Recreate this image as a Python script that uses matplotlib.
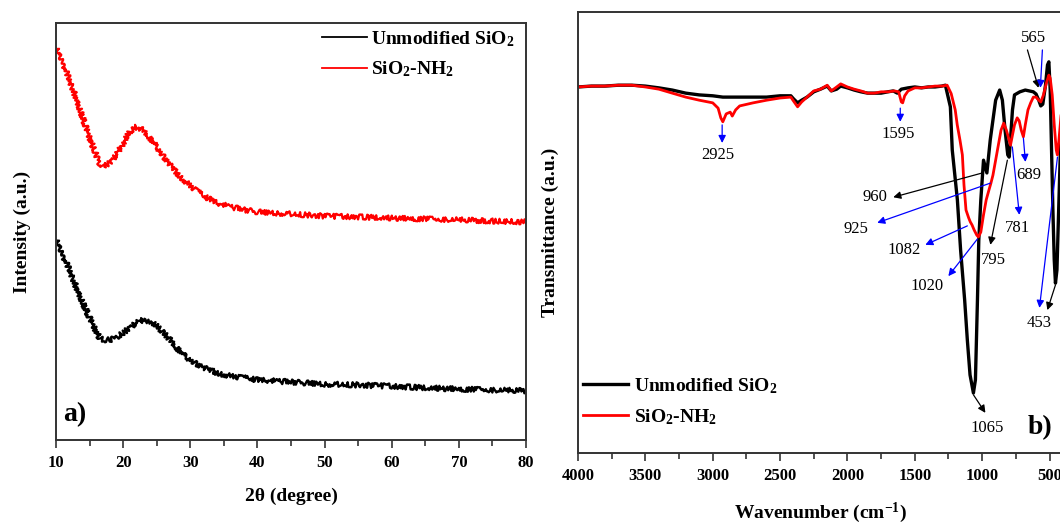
import matplotlib
matplotlib.use("Agg")
import matplotlib.pyplot as plt
import matplotlib.ticker as ticker

plt.rcParams["font.family"] = ["Liberation Serif", "DejaVu Serif"]
plt.rcParams["mathtext.fontset"] = "custom"
plt.rcParams["mathtext.rm"] = "Liberation Serif:bold"
plt.rcParams["mathtext.bf"] = "Liberation Serif:bold"
plt.rcParams["mathtext.default"] = "bf"

# --- XRD (panel a) ---
xrd_2theta = [10, 11, 12, 13, 14, 15, 16, 16.5, 17, 18, 19, 20, 21, 22, 23, 24, 25, 26, 27, 28,
              29, 30, 32, 34, 36, 38, 40, 45, 50, 55, 60, 65, 70, 75, 80]
xrd_nh2 = [94.0, 90.6, 86.3, 82.0, 77.2, 72.4, 68.3, 66.4, 65.7, 66.4, 68.3, 71.2, 73.9, 75.1,
           74.3, 72.4, 70.3, 68.1, 65.9, 64.0, 62.4, 60.9, 58.5, 56.8, 55.9, 55.2, 54.7, 54.2,
           53.7, 53.5, 53.2, 53.0, 52.8, 52.5, 52.3]
xrd_unmod = [48.0, 44.4, 40.8, 36.7, 32.9, 29.3, 25.9, 24.5, 24.0, 24.0, 24.7, 25.7, 26.9, 28.1,
             28.8, 28.5, 27.3, 25.7, 24.0, 22.1, 20.4, 19.2, 17.3, 16.1, 15.3, 14.9, 14.4, 13.9,
             13.4, 13.2, 12.9, 12.5, 12.2, 12.0, 11.8]

# --- FTIR (panel b) ---
ftir_w_unmod = [4000, 3900, 3800, 3700, 3600, 3500, 3400, 3300, 3200, 3100, 3000, 2925, 2850, 2700,
                2600, 2500, 2420, 2400, 2370, 2340, 2300, 2250, 2200, 2150, 2120, 2080, 2050, 2000,
                1950, 1900, 1850, 1800, 1750, 1700, 1660, 1630, 1600, 1550, 1500, 1450, 1400, 1350,
                1300, 1273, 1236, 1222, 1184, 1160, 1130, 1110, 1090, 1065, 1050, 1035, 1025, 1010,
                990, 965, 940, 900, 870, 850, 830, 810, 800, 790, 775, 760, 720, 700, 680, 650, 620,
                600, 580, 565, 550, 530, 515, 505, 495, 485, 475, 465, 456, 445, 430, 415, 400]
ftir_t_unmod = [83.0, 83.2, 83.2, 83.4, 83.4, 83.2, 82.8, 82.3, 81.6, 81.2, 81.0, 80.7, 80.7, 80.7,
                80.7, 81.0, 81.0, 80.3, 79.4, 80.0, 80.7, 81.9, 82.5, 83.2, 82.1, 82.5, 83.2, 82.8,
                82.3, 81.9, 81.6, 81.6, 81.6, 81.9, 82.1, 81.6, 82.5, 82.8, 83.0, 82.8, 83.0, 83.0,
                83.2, 83.4, 78.5, 68.7, 57.4, 46.0, 34.7, 25.6, 17.7, 13.6, 16.6, 34.7, 48.3, 57.4,
                66.4, 63.5, 71.0, 80.0, 82.3, 80.0, 73.2, 67.6, 67.1, 71.0, 77.8, 81.2, 81.9, 82.1,
                82.3, 82.1, 81.9, 81.4, 80.0, 78.7, 79.1, 83.4, 88.0, 88.7, 82.3, 68.7, 55.1, 43.8,
                38.5, 41.5, 57.4, 73.2, 80.0]

ftir_w_nh2 = [4000, 3900, 3800, 3700, 3600, 3500, 3400, 3300, 3200, 3100, 3000, 2960, 2940, 2925,
              2900, 2870, 2855, 2830, 2800, 2700, 2600, 2500, 2420, 2400, 2370, 2340, 2300, 2250,
              2200, 2150, 2120, 2080, 2050, 2000, 1950, 1900, 1850, 1800, 1750, 1700, 1650, 1620,
              1600, 1590, 1575, 1550, 1500, 1450, 1400, 1350, 1300, 1260, 1230, 1200, 1185, 1165,
              1147, 1135, 1120, 1100, 1088, 1075, 1060, 1040, 1028, 1010, 990, 970, 950, 935, 920,
              900, 880, 860, 840, 820, 800, 790, 775, 760, 740, 725, 710, 694, 680, 660, 640, 620,
              600, 580, 565, 545, 525, 505, 495, 480, 465, 450, 442, 430, 415, 400]
ftir_t_nh2 = [83.0, 83.2, 83.2, 83.4, 83.4, 83.0, 82.5, 81.6, 80.7, 80.0, 79.4, 78.2, 76.0, 75.1,
              76.9, 77.3, 76.4, 77.8, 78.7, 79.4, 80.0, 80.5, 80.7, 79.8, 78.5, 79.6, 80.7, 82.1,
              82.5, 83.4, 82.1, 83.0, 83.7, 83.0, 82.5, 82.1, 81.6, 81.6, 81.9, 81.9, 82.1, 81.9,
              79.6, 79.4, 81.0, 82.1, 82.8, 82.8, 83.0, 83.2, 83.2, 83.4, 81.5, 77.8, 74.4, 71.0,
              67.6, 60.8, 55.1, 53.3, 52.4, 51.7, 50.6, 49.4, 49.0, 50.1, 54.0, 57.4, 59.6, 61.2,
              63.0, 66.4, 69.8, 73.2, 74.8, 73.2, 71.0, 69.8, 72.1, 74.4, 76.0, 75.3, 73.2, 71.7,
              74.4, 77.8, 79.4, 80.7, 80.7, 80.0, 79.6, 81.2, 83.7, 85.7, 85.0, 81.2, 74.4, 68.7,
              67.6, 71.0, 76.4, 80.0]

# peak labels: text, label pos (w, T), arrow tail (w, T), arrow head (w, T), colour
peak_labels = ["2925", "1595", "565", "", "689", "781", "795", "960", "925", "1082", "1020", "453", "", "1065"]
label_pos = [(2960, 67.6), (1623, 72.3), (620, 94.1), None, (657, 63.0), (738, 51.0), (917, 43.8),
             (1793, 58.0), (1935, 50.8), (1578, 46.0), (1407, 37.9), (575, 29.5), None, (961, 5.7)]
arrow_tail = [(2930, 74.4), (1608, 78.2), (664, 91.4), (553, 91.4), (694, 71.4), (776, 69.4), (813, 66.4),
              (999, 63.5), (939, 61.2), (1110, 51.5), (1036, 48.5), (441, 67.1), (456, 38.1), (1065, 13.2)]
arrow_head = [(2930, 70.3), (1608, 75.1), (582, 82.8), (568, 82.8), (679, 66.0), (724, 54.0), (939, 47.2),
              (1660, 58.0), (1779, 52.2), (1422, 47.2), (1251, 40.1), (575, 32.9), (516, 32.4), (976, 9.1)]
arrow_color = ["blue", "blue", "black", "blue", "blue", "blue", "black",
               "black", "blue", "blue", "blue", "blue", "black", "black"]

fig = plt.figure(figsize=(10.6, 5.25), dpi=100)
ax1 = fig.add_axes([56 / 1060, 1 - 440 / 525, 470 / 1060, 417 / 525])
ax2 = fig.add_axes([578 / 1060, 1 - 453 / 525, 485 / 1060, 441 / 525])

SPINE = "#333333"

# panel a
l1, = ax1.plot(xrd_2theta, xrd_unmod, color="black", lw=1.7, label=r"Unmodified SiO$_2$")
l2, = ax1.plot(xrd_2theta, xrd_nh2, color="red", lw=1.6, label=r"SiO$_2$-NH$_2$")
for ln in (l1, l2):
    ln.set_sketch_params(scale=2.6, length=0.6, randomness=6)
ax1.set_xlim(10, 80)
ax1.set_ylim(0, 100)
ax1.set_yticks([])
ax1.xaxis.set_major_locator(ticker.MultipleLocator(10))
ax1.xaxis.set_minor_locator(ticker.MultipleLocator(5))
ax1.set_xlabel("2θ (degree)", fontsize=14, fontweight="bold", labelpad=12)
ax1.set_ylabel("Intensity (a.u.)", fontsize=14, fontweight="bold", labelpad=18)
leg1 = ax1.legend(handles=[l1, l2], loc="upper left", bbox_to_anchor=(0.566, 0.985), frameon=False,
                  borderpad=0, borderaxespad=0, handlelength=2.3, handletextpad=0.2,
                  labelspacing=0.55, prop=dict(size=14, weight="bold"))
for h in leg1.legend_handles:
    h.set_sketch_params(None)
    h.set_linewidth(1.3)
fig.text(75 / 1060, 1 - 415 / 525, "a)", fontsize=20, fontweight="bold", ha="center", va="center")

# panel b
ax2.plot(ftir_w_unmod, ftir_t_unmod, color="black", lw=2.4, label=r"Unmodified SiO$_2$")
ax2.plot(ftir_w_nh2, ftir_t_nh2, color="red", lw=2.0, label=r"SiO$_2$-NH$_2$")
ax2.set_xlim(4000, 400)
ax2.set_ylim(0, 100)
ax2.set_yticks([])
ax2.xaxis.set_major_locator(ticker.MultipleLocator(500))
ax2.xaxis.set_minor_locator(ticker.MultipleLocator(250))
ax2.set_xlabel(r"Wavenumber (cm$^{-1}$)", fontsize=14, fontweight="bold", labelpad=12)
ax2.set_ylabel("Transmittance (a.u.)", fontsize=14, fontweight="bold", labelpad=14)
ax2.legend(loc="upper left", bbox_to_anchor=(0.01, 0.175), frameon=False, borderpad=0,
           borderaxespad=0, handlelength=2.3, handletextpad=0.35, labelspacing=0.6,
           prop=dict(size=14, weight="bold"))

for txt, lp, tail, head, col in zip(peak_labels, label_pos, arrow_tail, arrow_head, arrow_color):
    ax2.annotate("", xy=head, xytext=tail,
                 arrowprops=dict(arrowstyle="-|>", color=col, lw=0.9, mutation_scale=11,
                                 shrinkA=0, shrinkB=0))
    if txt:
        ax2.text(lp[0], lp[1], txt, fontsize=12, ha="center", va="center")
fig.text(1040 / 1060, 1 - 428 / 525, "b)", fontsize=20, fontweight="bold", ha="center", va="center")

for ax in (ax1, ax2):
    for sp in ax.spines.values():
        sp.set_color(SPINE)
        sp.set_linewidth(1.4)
    ax.tick_params(axis="x", which="major", direction="out", length=6, width=1.2, color=SPINE, pad=5)
    ax.tick_params(axis="x", which="minor", direction="out", length=4, width=1.2, color=SPINE)
    for lab in ax.get_xticklabels():
        lab.set_fontsize(12)
        lab.set_fontweight("bold")

fig.savefig("out.png", dpi=100)
